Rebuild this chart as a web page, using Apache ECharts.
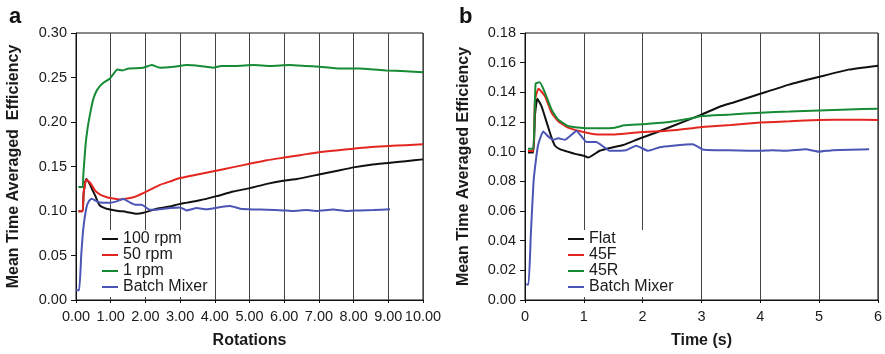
<!DOCTYPE html>
<html><head><meta charset="utf-8">
<script src="https://cdn.jsdelivr.net/npm/echarts@6/dist/echarts.min.js"></script>
<style>html,body{margin:0;padding:0;background:#fff}#c{width:885px;height:354px}</style>
</head><body><div id="c"></div>
<script>
// ---- Panel a : Rotations vs efficiency ----
const leftNames = ['100 rpm', '50 rpm', '1 rpm', 'Batch Mixer'];
const rpm100 = [[0.07,0.0996],[0.19,0.0996],[0.22,0.12],[0.29,0.136],[0.34,0.134],[0.40,0.130],[0.47,0.124],[0.55,0.1175],[0.62,0.111],[0.69,0.106],[0.78,0.104],[0.88,0.1026],[1.17,0.1004],[1.45,0.099],[1.75,0.097],[1.94,0.098],[2.33,0.1026],[2.7,0.105],[3.0,0.108],[3.57,0.112],[4.05,0.1167],[4.53,0.1219],[5.01,0.1257],[5.5,0.1305],[5.97,0.134],[6.36,0.136],[7.0,0.141],[7.5,0.145],[8.0,0.149],[8.5,0.152],[9.0,0.154],[9.5,0.156],[10,0.158]];
const rpm50 = [[0.07,0.0996],[0.19,0.0996],[0.22,0.12],[0.29,0.135],[0.34,0.134],[0.40,0.132],[0.47,0.128],[0.55,0.123],[0.64,0.120],[0.74,0.1175],[0.85,0.116],[0.98,0.1145],[1.27,0.113],[1.56,0.1145],[1.75,0.1167],[2.04,0.122],[2.42,0.1294],[2.7,0.133],[3.0,0.137],[3.5,0.141],[4.0,0.145],[4.5,0.149],[5.0,0.153],[5.5,0.157],[6.0,0.160],[6.5,0.163],[7.0,0.166],[7.5,0.168],[8.0,0.170],[8.5,0.172],[9.0,0.173],[9.5,0.174],[10,0.175]];
const rpm1 = [[0.07,0.127],[0.19,0.127],[0.21,0.140],[0.27,0.172],[0.33,0.192],[0.42,0.212],[0.50,0.226],[0.58,0.234],[0.66,0.239],[0.79,0.244],[0.98,0.249],[1.08,0.254],[1.19,0.259],[1.34,0.258],[1.51,0.260],[1.94,0.261],[2.18,0.264],[2.42,0.261],[2.80,0.262],[3.19,0.264],[3.57,0.263],[3.95,0.261],[4.19,0.263],[4.6,0.263],[5.11,0.264],[5.6,0.263],[6.16,0.264],[6.6,0.263],[7.02,0.262],[7.6,0.260],[8.18,0.260],[8.6,0.259],[8.94,0.258],[9.5,0.257],[10,0.256]];
const batchA = [[0,0.011],[0.09,0.011],[0.15,0.05],[0.21,0.080],[0.30,0.104],[0.37,0.111],[0.45,0.1138],[0.55,0.112],[0.64,0.110],[0.78,0.1094],[0.98,0.1094],[1.17,0.1108],[1.36,0.1138],[1.56,0.1094],[1.70,0.107],[1.89,0.107],[2.13,0.1015],[2.33,0.1015],[2.71,0.1033],[3.0,0.104],[3.19,0.1007],[3.48,0.1033],[3.77,0.102],[4.05,0.1037],[4.44,0.1056],[4.73,0.1026],[5.11,0.1018],[5.5,0.1015],[5.97,0.1007],[6.26,0.100],[6.64,0.101],[6.94,0.100],[7.41,0.1018],[7.8,0.100],[8.18,0.1007],[8.57,0.101],[9.05,0.102]];

// ---- Panel b : Time vs efficiency ----
const rightNames = ['Flat', '45F', '45R', 'Batch Mixer'];
const flat = [[0.05,0.0995],[0.14,0.0995],[0.17,0.125],[0.21,0.1357],[0.28,0.1307],[0.37,0.1196],[0.45,0.1096],[0.51,0.104],[0.6,0.1015],[0.71,0.1002],[0.85,0.0985],[1.0,0.0973],[1.07,0.096],[1.27,0.1006],[1.44,0.1025],[1.67,0.1045],[1.95,0.1089],[2.23,0.1129],[2.51,0.1173],[3.0,0.125],[3.31,0.1303],[3.53,0.133],[4.0,0.139],[4.49,0.1452],[5.0,0.1504],[5.5,0.1553],[6.0,0.158]];
const f45 = [[0.05,0.1005],[0.14,0.1005],[0.17,0.135],[0.23,0.1424],[0.34,0.1374],[0.45,0.1263],[0.56,0.1207],[0.73,0.1162],[0.99,0.1133],[1.19,0.1118],[1.53,0.1116],[2.0,0.1133],[2.37,0.114],[2.88,0.116],[3.0,0.1167],[3.5,0.118],[4.0,0.1196],[4.5,0.1205],[5.0,0.1214],[5.5,0.1215],[6.0,0.1214]];
const r45 = [[0.05,0.102],[0.14,0.102],[0.18,0.1459],[0.25,0.1468],[0.34,0.1397],[0.45,0.1285],[0.56,0.1218],[0.73,0.1173],[0.99,0.116],[1.3,0.1158],[1.53,0.1162],[1.69,0.1178],[2.0,0.1185],[2.37,0.1196],[2.88,0.1229],[3.0,0.124],[3.5,0.125],[4.0,0.1263],[4.5,0.127],[5.0,0.1278],[5.5,0.1284],[6.0,0.129]];
const batchB = [[0.02,0.0105],[0.06,0.0105],[0.10,0.045],[0.15,0.082],[0.22,0.104],[0.31,0.1136],[0.40,0.110],[0.48,0.108],[0.565,0.109],[0.68,0.108],[0.876,0.114],[1.045,0.1066],[1.21,0.1066],[1.44,0.1006],[1.72,0.101],[1.89,0.104],[2.09,0.1006],[2.29,0.103],[2.51,0.104],[2.85,0.105],[3.02,0.1015],[3.25,0.101],[3.64,0.1008],[3.98,0.1006],[4.21,0.101],[4.44,0.1006],[4.77,0.1016],[5.0,0.100],[5.23,0.101],[5.85,0.1016]];

const colors = { black: '#111111', red: '#e3261f', green: '#178a35', blue: '#4a55b5' };
const FONT = 'Liberation Sans, Arial, Helvetica, sans-serif';

const chart = echarts.init(document.getElementById('c'), null, { renderer: 'canvas' });

function xAxis(gridIndex, max, fmt, name, gap) {
  return {
    type: 'value', gridIndex, min: 0, max, interval: 1,
    name, nameLocation: 'middle', nameGap: gap,
    nameTextStyle: { fontFamily: FONT, fontWeight: 'bold', fontSize: 16, color: '#1a1a1a' },
    axisLine: { show: true, lineStyle: { color: '#111', width: 1 } },
    axisTick: { show: true, length: 3, lineStyle: { color: '#111' } },
    axisLabel: { fontFamily: FONT, fontSize: 14.5, color: '#1a1a1a', margin: 9, formatter: fmt },
    splitLine: { show: true, lineStyle: { color: '#444', width: 1 } }
  };
}
function yAxis(gridIndex, max, interval, gap) {
  return {
    type: 'value', gridIndex, min: 0, max, interval,
    name: gridIndex === 0 ? 'Mean Time Averaged  Efficiency' : 'Mean Time Averaged Efficiency',
    nameLocation: 'middle', nameGap: gap,
    nameTextStyle: { fontFamily: FONT, fontWeight: 'bold', fontSize: 16, color: '#1a1a1a' },
    axisLine: { show: true, lineStyle: { color: '#111', width: 1 } },
    axisTick: { show: true, length: 5, lineStyle: { color: '#111' } },
    axisLabel: { fontFamily: FONT, fontSize: 14.5, color: '#1a1a1a', margin: 9, formatter: v => v.toFixed(2) },
    splitLine: { show: false }
  };
}
function line(name, data, color, idx) {
  return { type: 'line', name, data, xAxisIndex: idx, yAxisIndex: idx, showSymbol: false, symbol: 'none',
    smooth: 0.15, lineStyle: { color, width: 2 }, itemStyle: { color }, animation: false, z: 3 };
}
function legend(names, left) {
  return { data: names, orient: 'vertical', left, top: 230, icon: 'rect', itemWidth: 16, itemHeight: 2,
    itemGap: 0, padding: [1, 4, 2, 3], backgroundColor: '#fff', z: 10,
    textStyle: { fontFamily: FONT, fontSize: 16, color: '#1a1a1a', padding: [0, 0, 0, 0] } };
}

chart.setOption({
  animation: false,
  backgroundColor: '#fff',
  grid: [
    { left: 76, top: 33, width: 347, height: 269, show: true, borderColor: '#111', borderWidth: 1, backgroundColor: 'transparent' },
    { left: 525, top: 33, width: 354, height: 269, show: true, borderColor: '#111', borderWidth: 1, backgroundColor: 'transparent' }
  ],
  xAxis: [
    xAxis(0, 10, v => v.toFixed(2), 'Rotations', 33),
    xAxis(1, 6, v => String(v), 'Time (s)', 33)
  ],
  yAxis: [ yAxis(0, 0.30, 0.05, 54), yAxis(1, 0.18, 0.02, 53) ],
  legend: [ legend(leftNames, 99), legend(rightNames, 565) ],
  graphic: [
    { type: 'text', left: 9, top: 6, style: { text: 'a', font: 'bold 22px ' + FONT, fill: '#111' } },
    { type: 'text', left: 459, top: 6, style: { text: 'b', font: 'bold 22px ' + FONT, fill: '#111' } }
  ],
  series: [
    line('100 rpm', rpm100, colors.black, 0),
    line('50 rpm', rpm50, colors.red, 0),
    line('1 rpm', rpm1, colors.green, 0),
    line('Batch Mixer', batchA, colors.blue, 0),
    line('Flat', flat, colors.black, 1),
    line('45F', f45, colors.red, 1),
    line('45R', r45, colors.green, 1),
    line('Batch Mixer', batchB, colors.blue, 1)
  ]
});
</script>
</body></html>
